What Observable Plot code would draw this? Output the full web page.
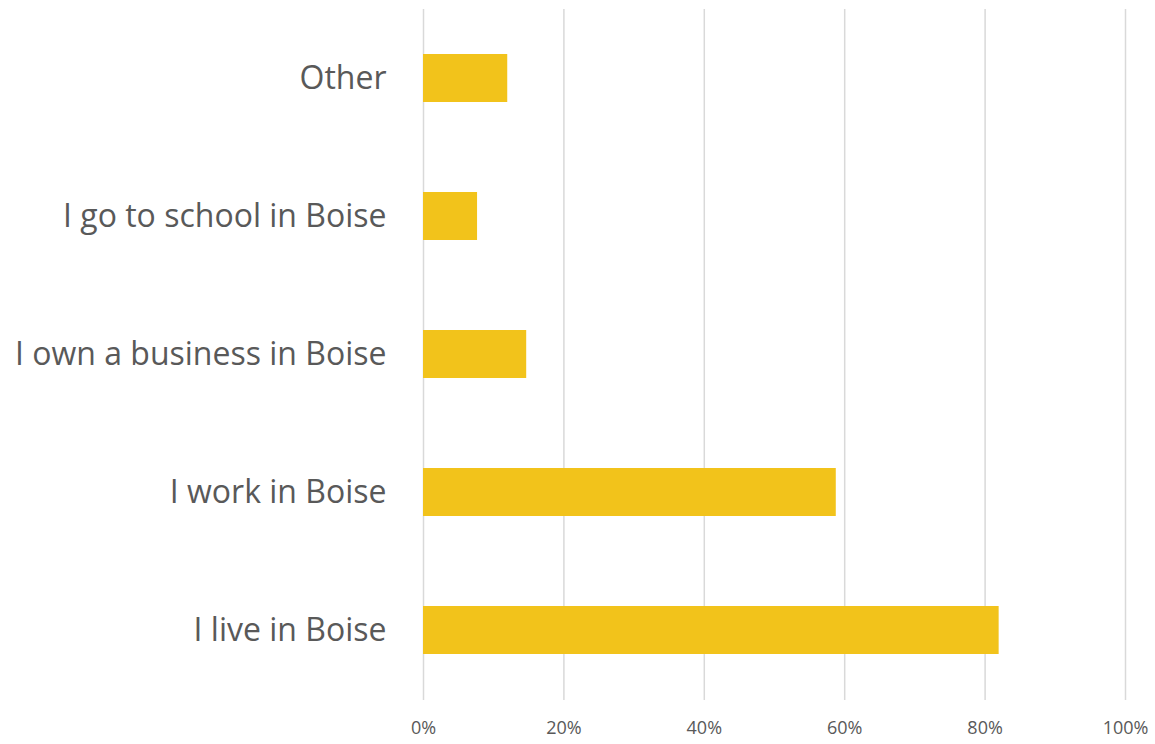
<!DOCTYPE html>
<html>
<head>
<meta charset="utf-8">
<script src="https://cdn.jsdelivr.net/npm/d3@7"></script>
<script src="https://cdn.jsdelivr.net/npm/@observablehq/plot@0.6"></script>
<style>
  html, body { margin: 0; padding: 0; background: #fff; }
  #chart svg { display: block; }
</style>
</head>
<body>
<div id="chart"></div>
<script>
const categories = ["Other", "I go to school in Boise", "I own a business in Boise", "I work in Boise", "I live in Boise"];
const values = [0.12, 0.077, 0.147, 0.588, 0.82];
const xTicks = [0, 0.2, 0.4, 0.6, 0.8, 1.0];

const data = categories.map((c, i) => ({category: c, value: values[i]}));

const chart = Plot.plot({
  width: 1155,
  height: 744,
  marginLeft: 423,
  marginRight: 30,
  marginTop: 9,
  marginBottom: 44,
  style: {fontFamily: "'Open Sans', sans-serif", color: "#595959", background: "#fff"},
  x: {domain: [0, 1], ticks: xTicks},
  y: {domain: categories, paddingInner: 0.65, paddingOuter: 0.325},
  marks: [
    Plot.gridX(xTicks, {stroke: "#d9d9d9", strokeOpacity: 1, strokeWidth: 1.5}),
    Plot.barX(data, {x: "value", y: "category", fill: "#F2C31B"}),
    Plot.axisX({ticks: xTicks, tickSize: 0, tickPadding: 21, fontSize: 18, tickFormat: d => Math.round(d * 100) + "%", label: null}),
    Plot.axisY({tickSize: 0, tickPadding: 37, fontSize: 32, label: null})
  ]
});
document.getElementById("chart").appendChild(chart);
</script>
</body>
</html>
